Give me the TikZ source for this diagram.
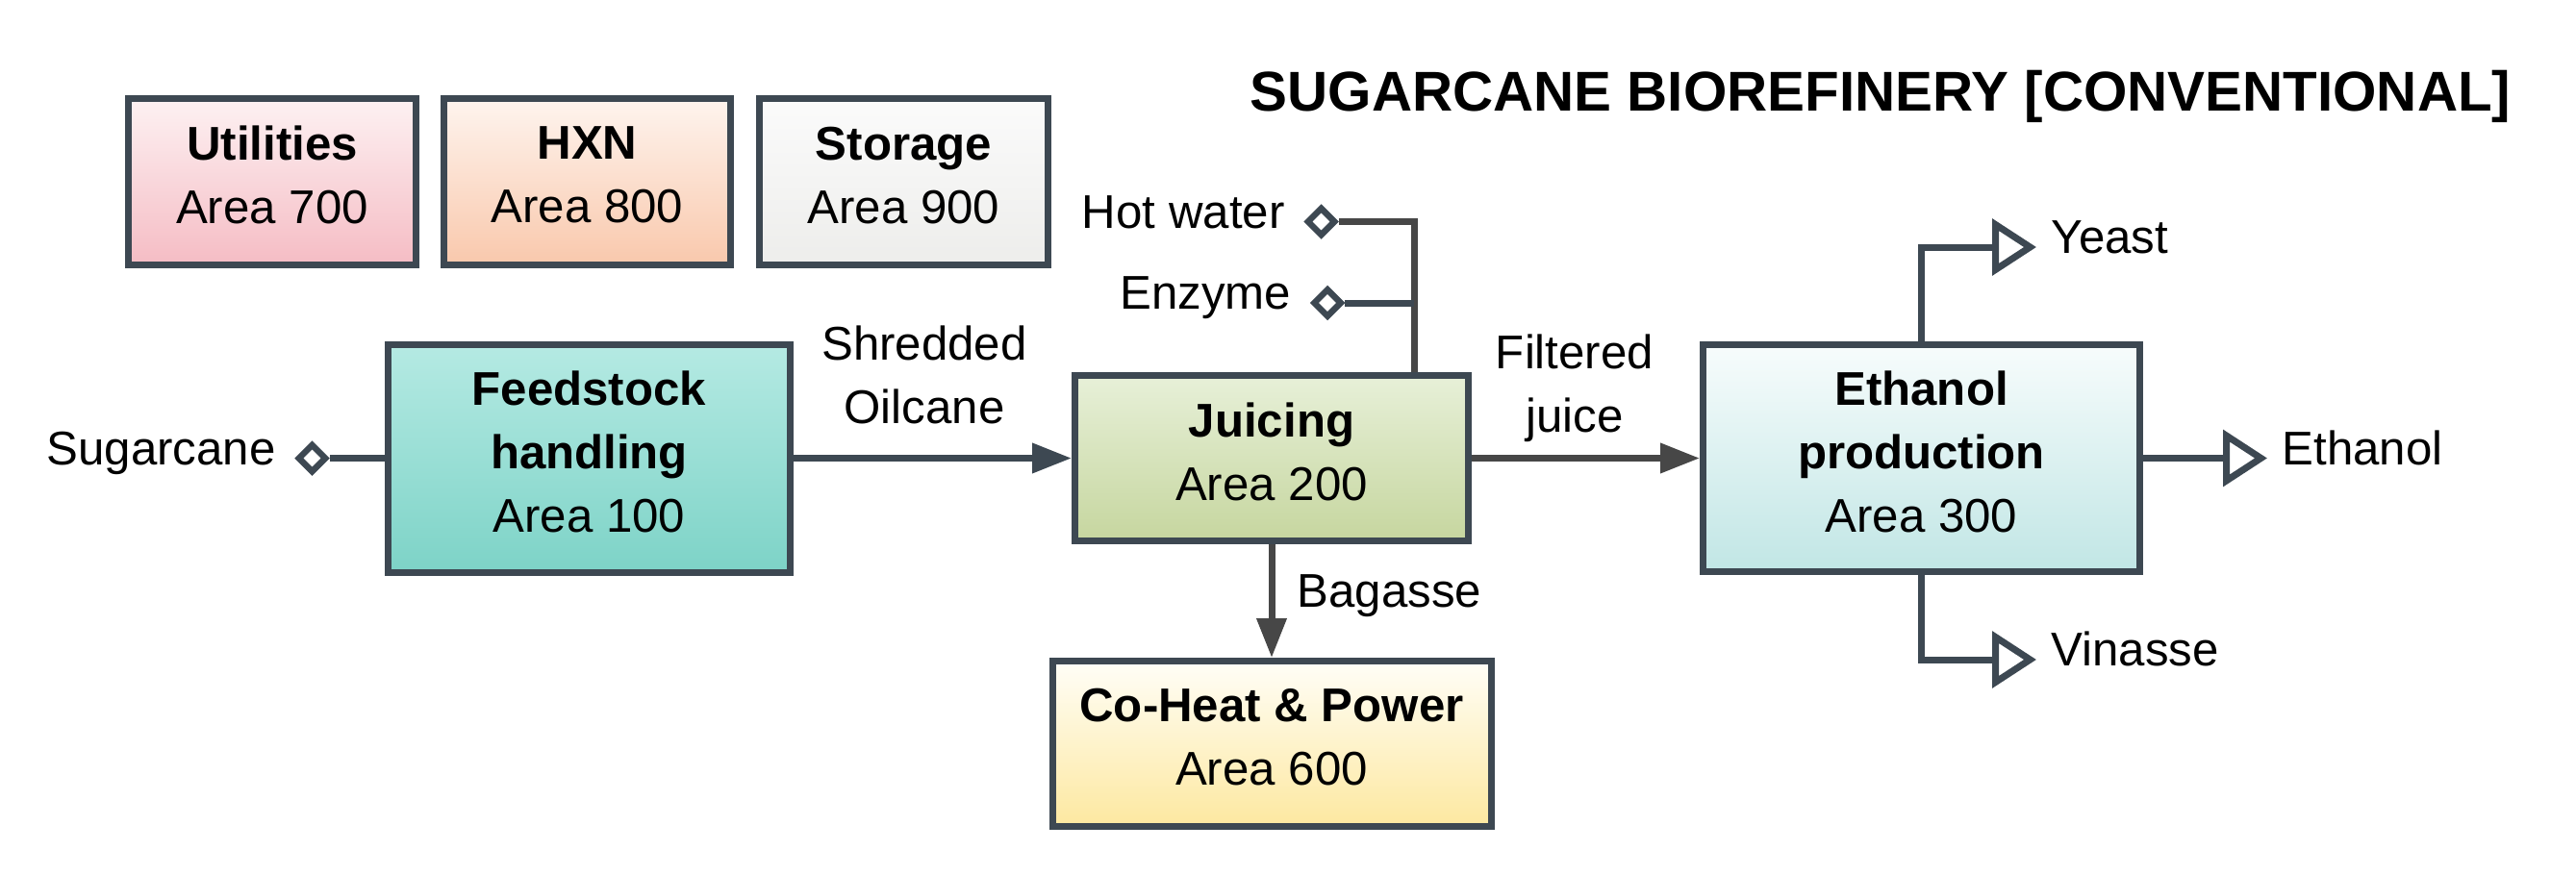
\documentclass[tikz,border=0pt]{standalone}
\usepackage{fontspec}
\setmainfont{Liberation Sans}
\usetikzlibrary{positioning, arrows.meta, shapes.geometric}

\definecolor{edge}{HTML}{3D4852}
\definecolor{flow}{HTML}{474747}
\definecolor{utiltop}{HTML}{FDF1F2}
\definecolor{utilbot}{HTML}{F5BCC4}
\definecolor{hxntop}{HTML}{FEF4EE}
\definecolor{hxnbot}{HTML}{F9C8AC}
\definecolor{storetop}{HTML}{FBFBFB}
\definecolor{storebot}{HTML}{EDEDEB}
\definecolor{feedtop}{HTML}{B5EAE3}
\definecolor{feedbot}{HTML}{7DD3C7}
\definecolor{juicetop}{HTML}{E7F0D8}
\definecolor{juicebot}{HTML}{C6D69F}
\definecolor{chptop}{HTML}{FFFEF7}
\definecolor{chpbot}{HTML}{FDE8A0}
\definecolor{ethtop}{HTML}{F7FCFC}
\definecolor{ethbot}{HTML}{C1E6E5}

\begin{document}
\begin{tikzpicture}[
    area/.style={draw=edge, line width=0.07cm, align=center, inner sep=0pt,
        text depth=4pt, font=\fontsize{14}{18.8}\selectfont},
    stream/.style={align=center, inner sep=2pt,
        font=\fontsize{14}{18.8}\selectfont},
    tag/.style={stream, text height=0.75em, text depth=0.37em},
    line/.style={draw=edge, line width=0.07cm},
    grayline/.style={line, draw=flow},
    feed/.style={line, -{Triangle[length=0.41cm, width=0.3cm]}},
    product/.style={line, -{Triangle[open, length=0.46cm, width=0.58cm,
        fill=white]}},
    inlet/.style={diamond, draw=edge, fill=white, line width=0.065cm,
        inner sep=0pt, minimum width=0.3cm, minimum height=0.3cm}]
    \useasboundingbox (0, 0) rectangle (26.78, -9.09);

    \node[font=\fontsize{16.6}{20}\selectfont\bfseries] (title) at (19.55, -1.0)
        {SUGARCANE BIOREFINERY [CONVENTIONAL]};

    \node[area, top color=utiltop, bottom color=utilbot, minimum width=2.99cm,
        minimum height=1.73cm] (utilities) at (2.83, -1.89)
        {\textbf{Utilities}\\Area 700};
    \node[area, top color=hxntop, bottom color=hxnbot, minimum width=2.98cm,
        minimum height=1.73cm] (hxn) at (6.105, -1.89)
        {\textbf{HXN}\\Area 800};
    \node[area, top color=storetop, bottom color=storebot, minimum width=3.0cm,
        minimum height=1.73cm] (storage) at (9.395, -1.89)
        {\textbf{Storage}\\Area 900};

    \node[area, top color=feedtop, bottom color=feedbot, minimum width=4.18cm,
        minimum height=2.37cm] (feedstock) at (6.125, -4.765)
        {\textbf{Feedstock}\\\textbf{handling}\\Area 100};
    \node[area, top color=juicetop, bottom color=juicebot, minimum width=4.09cm,
        minimum height=1.72cm] (juicing) at (13.22, -4.765)
        {\textbf{Juicing}\\Area 200};
    \node[area, top color=chptop, bottom color=chpbot, minimum width=4.56cm,
        minimum height=1.72cm] (chp) at (13.22, -7.735)
        {\textbf{Co-Heat \& Power}\\Area 600};
    \node[area, top color=ethtop, bottom color=ethbot, minimum width=4.54cm,
        minimum height=2.36cm] (ethanol) at (19.975, -4.765)
        {\textbf{Ethanol}\\\textbf{production}\\Area 300};

    % inlets
    \node[inlet] (sugarcane-in) at (3.245, -4.765) {};
    \node[tag, left=0.12cm of sugarcane-in] (sugarcane) {Sugarcane};
    \node[inlet] (hotwater-in) at (13.735, -2.305) {};
    \node[tag, left=0.12cm of hotwater-in] (hotwater) {Hot water};
    \node[inlet] (enzyme-in) at (13.80, -3.15) {};
    \node[tag, left=0.12cm of enzyme-in] (enzyme) {Enzyme};
    \coordinate (juicing-in) at ([xshift=1.48cm]juicing.north);

    % outlets
    \coordinate (yeast-out) at (21.17, -2.57);
    \node[tag, right=0.08cm of yeast-out] (yeast) {Yeast};
    \coordinate (ethanol-out) at (23.57, -4.765);
    \node[tag, right=0.08cm of ethanol-out] (ethanol-label) {Ethanol};
    \coordinate (vinasse-out) at (21.17, -6.86);
    \node[tag, right=0.08cm of vinasse-out] (vinasse) {Vinasse};

    % stream labels
    \node[stream] (shredded) at (9.61, -3.90) {Shredded\\Oilcane};
    \node[stream] (filtered) at (16.37, -4.04) {Filtered\\juice};
    \node[tag, anchor=west] (bagasse) at (13.41, -6.25) {Bagasse};

    \draw[line] (sugarcane-in) -- (feedstock);
    \draw[grayline] (hotwater-in) -| (juicing-in);
    \draw[line] (enzyme-in) -- (enzyme-in -| juicing-in);
    \draw[feed] (feedstock) -- (juicing);
    \draw[feed, draw=flow, fill=flow] (juicing) -- (ethanol);
    \draw[feed, draw=flow, fill=flow] (juicing) -- (chp);
    \draw[product] (ethanol.north) |- (yeast-out);
    \draw[product] (ethanol) -- (ethanol-out);
    \draw[product] (ethanol.south) |- (vinasse-out);
\end{tikzpicture}
\end{document}
